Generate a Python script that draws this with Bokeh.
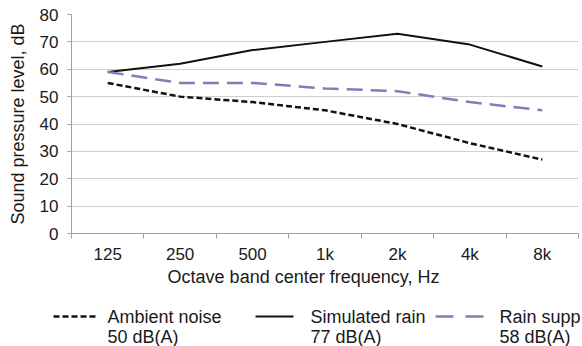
from bokeh.plotting import figure
from bokeh.models import Range1d, FixedTicker
from bokeh.core.properties import value
from bokeh.embed import file_html
from bokeh.resources import INLINE

# ---- data -------------------------------------------------------------
categories = ["125", "250", "500", "1k", "2k", "4k", "8k"]
ambient_noise = [55, 50, 48, 45, 40, 33, 27]
simulated_rain = [59, 62, 67, 70, 73, 69, 61]
rain_supp = [59, 55, 55, 53, 52, 48, 45]
y_ticks = [0, 10, 20, 30, 40, 50, 60, 70, 80]
x_title = "Octave band center frequency, Hz"
y_title = "Sound pressure level, dB"
legend_names = ["Ambient noise", "Simulated rain", "Rain supp"]
legend_levels = ["50 dB(A)", "77 dB(A)", "58 dB(A)"]

FONT = "Liberation Sans"
TXT = "#1a1a1a"
GREY = "#a0a0a0"
STYLES = [dict(line_color="#111111", line_width=2.5, line_dash="6 3"),
          dict(line_color="#111111", line_width=2),
          dict(line_color="#7b80b8", line_width=2.5, line_dash="16 8")]
KEY_DASH = ["6 3", "solid", "18 12"]

x_centers = [i + 0.5 for i in range(len(categories))]
x_bounds = list(range(len(categories) + 1))

W = 582
main = figure(width=W, height=266, output_backend="svg", toolbar_location=None,
              x_range=Range1d(0, len(categories)), y_range=Range1d(y_ticks[0], y_ticks[-1]),
              min_border_left=71, min_border_right=4, min_border_top=14, min_border_bottom=33)
main.outline_line_color = None

for series, st in zip([ambient_noise, simulated_rain, rain_supp], STYLES):
    main.line(x_centers, series, **st)

# x axis: labels centred in the bands, tick marks on the band boundaries
xa = main.xaxis[0]
xa.ticker = FixedTicker(ticks=x_centers, minor_ticks=x_bounds)
xa.major_label_overrides = {x: c for x, c in zip(x_centers, categories)}
xa.major_tick_out = 0
xa.major_tick_in = 0
xa.minor_tick_out = 5
xa.minor_tick_in = 0
xa.minor_tick_line_color = GREY
xa.axis_line_color = GREY
xa.major_label_standoff = 6
xa.major_label_text_font = FONT
xa.major_label_text_font_size = "17px"
xa.major_label_text_color = TXT

# y axis
ya = main.yaxis[0]
ya.ticker = FixedTicker(ticks=y_ticks)
ya.minor_tick_line_color = None
ya.major_tick_out = 4
ya.major_tick_in = 0
ya.major_tick_line_color = GREY
ya.axis_line_color = GREY
ya.major_label_standoff = 9
ya.major_label_text_font = FONT
ya.major_label_text_font_size = "17px"
ya.major_label_text_color = TXT
ya.axis_label = y_title
ya.axis_label_text_font = FONT
ya.axis_label_text_font_size = "18px"
ya.axis_label_text_font_style = "normal"
ya.axis_label_text_color = TXT
ya.axis_label_standoff = 9

main.xgrid.grid_line_color = None
main.ygrid.ticker = FixedTicker(ticks=y_ticks)
main.ygrid.grid_line_color = "#cfcfcf"
main.ygrid.grid_line_width = 1

# ---- strip below the chart: x title and legend (pixel coords, y down) ----
LH = 80
leg = figure(width=W, height=LH, output_backend="svg", toolbar_location=None,
             x_axis_location=None, y_axis_location=None,
             x_range=Range1d(0, W), y_range=Range1d(LH, 0), min_border=0)
leg.outline_line_color = None
leg.grid.visible = False

leg.text([303], [10], text=[x_title], text_font=value(FONT), text_font_size=value("18px"),
         text_color=TXT, text_baseline="middle", text_align="center")

key_x = [(53, 95), (255, 293), (435, 483)]     # key sample start/end
text_x = [107, 310, 499]
row1, row2 = 50, 70
for (x0, x1), tx, name, lvl, st, kd in zip(key_x, text_x, legend_names, legend_levels, STYLES, KEY_DASH):
    kst = dict(st, line_dash=kd)
    leg.line([x0, x1], [row1, row1], **kst)
    leg.text([tx, tx], [row1, row2], text=[name, lvl],
             text_font=value(FONT), text_font_size=value("18px"),
             text_color=TXT, text_baseline="middle", text_align="left")

# two independent roots stacked on the page
p = [main, leg]

open("out.html", "w").write(file_html(p, INLINE))
